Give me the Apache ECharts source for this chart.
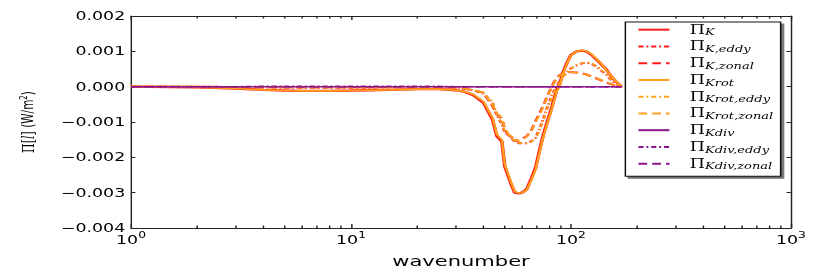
<!DOCTYPE html>
<html><head><meta charset="utf-8">
<script src="https://cdn.jsdelivr.net/npm/echarts@6/dist/echarts.min.js"></script>
<style>
html,body{margin:0;padding:0;background:#fff;overflow:hidden}
#wrap{width:830px;height:273px;overflow:hidden}
#c{width:572px;height:273px;transform:scaleX(1.451);transform-origin:0 0}
</style>
</head><body><div id="wrap"><div id="c"></div></div>
<script>
// ---- data ----
const wavenumbers = [1, 1.5, 2, 3, 4, 5, 6, 8, 10, 12, 15, 20, 25, 30, 33, 36, 40, 44, 46, 48.5, 50, 53, 55.5, 58, 60, 63, 66, 69, 72, 75, 78, 82, 86, 89, 92, 96, 100, 106, 112, 118, 124, 130, 137, 145, 152, 160, 170];

const piK = [0, -0.00001, -0.00002, -0.00005, -0.00009, -0.00011, -0.00012, -0.00012, -0.00011, -0.0001, -0.00009, -0.00007, -0.00007, -0.0001, -0.00015, -0.00024, -0.00045, -0.00093, -0.0014, -0.00155, -0.00225, -0.0027, -0.003, -0.00302, -0.003, -0.0029, -0.0026, -0.0023, -0.0018, -0.00135, -0.001, -0.00056, -0.0001, 0.00008, 0.0004, 0.00068, 0.0009, 0.001, 0.00102, 0.00099, 0.0009, 0.00078, 0.00064, 0.00048, 0.0003, 0.00015, 0];
const piKeddy = [0, 0, 0, -0.00001, -0.00002, -0.00003, -0.00003, -0.00003, -0.00003, -0.00003, -0.00002, -0.00002, -0.00002, -0.00003, -0.00005, -0.0001, -0.0002, -0.00045, -0.0008, -0.00105, -0.0013, -0.0014, -0.0015, -0.0016, -0.0016, -0.0016, -0.00155, -0.00145, -0.0012, -0.0009, -0.0006, -0.00025, 0.00002, 0.00015, 0.0003, 0.0004, 0.00052, 0.0006, 0.00066, 0.00068, 0.00065, 0.00058, 0.00046, 0.00034, 0.0002, 0.00008, 0];
const piKzonal = [0, 0, 0, -0.00001, -0.00002, -0.00002, -0.00002, -0.00002, -0.00002, -0.00002, -0.00002, -0.00001, -0.00001, -0.00003, -0.00006, -0.0001, -0.00017, -0.00055, -0.00078, -0.0009, -0.0012, -0.00145, -0.00154, -0.00152, -0.00148, -0.0014, -0.00124, -0.00098, -0.00076, -0.00052, -0.00028, 0.00002, 0.00025, 0.00033, 0.00038, 0.0004, 0.00041, 0.0004, 0.00038, 0.00034, 0.00029, 0.00024, 0.00018, 0.00012, 0.00007, 0.00003, 0];
const piKrot = [0, -0.00001, -0.00002, -0.00005, -0.00009, -0.00011, -0.00012, -0.00012, -0.00011, -0.0001, -0.00009, -0.00007, -0.00007, -0.0001, -0.00014, -0.00022, -0.00042, -0.00088, -0.00135, -0.0015, -0.0022, -0.00265, -0.00297, -0.00301, -0.003, -0.00292, -0.00265, -0.00235, -0.00186, -0.0014, -0.00105, -0.0006, -0.00015, 0.00003, 0.00037, 0.00066, 0.00089, 0.001, 0.00103, 0.001, 0.00092, 0.0008, 0.00065, 0.00047, 0.00031, 0.00016, 0];
const piKroteddy = [0, 0, 0, -0.00001, -0.00002, -0.00003, -0.00003, -0.00003, -0.00003, -0.00003, -0.00002, -0.00002, -0.00002, -0.00003, -0.00005, -0.0001, -0.00019, -0.00043, -0.00077, -0.00102, -0.00127, -0.00138, -0.00149, -0.00159, -0.0016, -0.0016, -0.00156, -0.00147, -0.00123, -0.00093, -0.00063, -0.00028, 0, 0.00013, 0.00028, 0.00039, 0.00051, 0.0006, 0.00066, 0.00069, 0.00066, 0.00059, 0.00047, 0.00035, 0.00021, 0.00009, 0];
const piKrotzonal = [0, 0, 0, -0.00001, -0.00002, -0.00002, -0.00002, -0.00002, -0.00002, -0.00002, -0.00002, -0.00001, -0.00001, -0.00003, -0.00006, -0.0001, -0.00016, -0.00052, -0.00075, -0.00088, -0.00117, -0.00143, -0.00153, -0.00152, -0.00149, -0.00141, -0.00126, -0.001, -0.00079, -0.00055, -0.0003, 0, 0.00023, 0.00032, 0.00037, 0.0004, 0.00041, 0.0004, 0.00038, 0.00034, 0.0003, 0.00025, 0.00019, 0.00013, 0.00008, 0.00003, 0];
const piKdiv = [0, 0, 0, 0, 0, 0, 0, 0, 0, 0, 0, 0, 0, 0, 0, 0, 0, 0, 0, 0, 0, 0, 0, 0, 0, 0, 0, 0, 0, 0, 0, 0, 0, 0, 0, 0, 0, 0, 0, 0, 0, 0, 0, 0, 0, 0, 0];
const piKdiveddy = [0, 0, 0, 0, 0.00001, 0.00001, 0.00001, 0.00001, 0.00001, 0.00001, 0.00001, 0.00001, 0.00001, 0, 0, 0, 0, 0, 0, 0, 0, 0, 0, 0, 0, 0, 0, 0, 0, 0, 0, 0, 0, 0, 0, 0, 0, 0, 0, 0, 0, 0, 0, 0, 0, 0, 0];
const piKdivzonal = [0, 0, 0, 0, 0, 0, 0, 0, 0, 0, 0, 0, 0, 0, 0, 0, 0, 0, 0, 0, 0, 0, 0, 0, 0, 0, 0, 0, 0, 0, 0, 0, 0, 0, 0, 0, 0, 0, 0, 0, 0, 0, 0, 0, 0, 0, 0];

const seriesNames = ['ΠK', 'ΠK,eddy', 'ΠK,zonal', 'ΠKrot', 'ΠKrot,eddy', 'ΠKrot,zonal', 'ΠKdiv', 'ΠKdiv,eddy', 'ΠKdiv,zonal'];
const seriesValues = [piK, piKeddy, piKzonal, piKrot, piKroteddy, piKrotzonal, piKdiv, piKdiveddy, piKdivzonal];
const xMinorTicks = [2, 3, 4, 5, 6, 7, 8, 9, 20, 30, 40, 50, 60, 70, 80, 90, 200, 300, 400, 500, 600, 700, 800, 900];
const yMin = -0.004, yMax = 0.002, yStep = 0.001;

// ---- styles ----
const RED = '#ff1a1a', ORANGE = '#ffa01e', PURPLE = '#8c148c';
const DASHDOT = [3.5, 2, 1.3, 2], DASHED = [6, 3.5];
const styles = [
  {color: RED, width: 2.4, type: 'solid'},
  {color: RED, width: 2, type: DASHDOT},
  {color: RED, width: 2, type: DASHED},
  {color: ORANGE, width: 1.6, type: 'solid'},
  {color: ORANGE, width: 1.6, type: DASHDOT},
  {color: ORANGE, width: 1.6, type: DASHED},
  {color: PURPLE, width: 1.5, type: 'solid'},
  {color: PURPLE, width: 1.5, type: DASHDOT},
  {color: PURPLE, width: 1.5, type: DASHED}
];

const AX = '#222';
const lineSeries = seriesNames.map((name, i) => ({
  type: 'line', name: name,
  data: wavenumbers.map((k, j) => [k, seriesValues[i][j]]),
  showSymbol: false, symbol: 'none',
  lineStyle: {color: styles[i].color, width: styles[i].width, type: styles[i].type},
  itemStyle: {color: styles[i].color},
  z: 2 + i
}));

const minorSeries = {
  type: 'custom', silent: true, clip: false, z: 20,
  data: xMinorTicks.map(v => [v, 0]),
  renderItem: function (params, api) {
    const v = api.value(0);
    const b = api.coord([v, yMin]);
    const t = api.coord([v, yMax]);
    return {type: 'group', children: [
      {type: 'line', shape: {x1: b[0], y1: b[1], x2: b[0], y2: b[1] - 2.5}, style: {stroke: AX, lineWidth: 1}},
      {type: 'line', shape: {x1: t[0], y1: t[1], x2: t[0], y2: t[1] + 2.5}, style: {stroke: AX, lineWidth: 1}}
    ]};
  }
};

const yFmt = v => {
  const n = Math.round(v / yStep);
  if (n === 0) return '0.000';
  return (n < 0 ? '\u2212' : '') + (Math.abs(n) * yStep).toFixed(3);
};
const xFmt = v => '{b|10}{e|' + Math.round(Math.log10(v)) + '}';

const chart = echarts.init(document.getElementById('c'), null, {renderer: 'svg'});
chart.setOption({
  animation: false,
  backgroundColor: '#fff',
  grid: {left: 90.3, right: 26.9, top: 16, bottom: 44},
  legend: {
    orient: 'vertical', left: 431, top: 22,
    padding: [1.7, 5, 4.6, 8],
    itemWidth: 21.4, itemHeight: 10, itemGap: 2.75,
    backgroundColor: '#fff', borderColor: '#111', borderWidth: 1,
    shadowColor: 'rgba(0,0,0,0.55)', shadowOffsetX: 2, shadowOffsetY: 2, shadowBlur: 0,
    selectedMode: false,
    itemStyle: {color: 'rgba(0,0,0,0)', borderWidth: 0, opacity: 0},
    data: seriesNames,
    formatter: name => '{p|Π}{s|' + name.slice(1) + '}',
    textStyle: {
      rich: {
        p: {fontFamily: 'DejaVu Serif', fontSize: 12, lineHeight: 16, color: '#000', padding: [0, 0, 0, 9]},
        s: {fontFamily: 'DejaVu Serif', fontStyle: 'italic', fontSize: 9, lineHeight: 16, height: 10, verticalAlign: 'bottom', color: '#000'}
      }
    }
  },
  xAxis: [
    {
      type: 'log', logBase: 10, min: 1, max: 1000, position: 'bottom',
      name: 'wavenumber', nameLocation: 'middle', nameGap: 25,
      nameTextStyle: {fontFamily: 'DejaVu Sans', fontSize: 14.5, color: '#000'},
      axisLine: {show: true, onZero: false, lineStyle: {color: AX, width: 1}},
      axisTick: {show: true, inside: true, length: 4, lineStyle: {color: AX, width: 1}},
      axisLabel: {
        formatter: xFmt, margin: 2, color: '#000',
        rich: {
          b: {fontFamily: 'DejaVu Sans', fontSize: 12, lineHeight: 20, color: '#000'},
          e: {fontFamily: 'DejaVu Sans', fontSize: 8.5, verticalAlign: 'top', height: 9, color: '#000'}
        }
      },
      splitLine: {show: false}, minorTick: {show: false}
    },
    {
      type: 'log', logBase: 10, min: 1, max: 1000, position: 'top',
      axisLine: {show: true, onZero: false, lineStyle: {color: AX, width: 1}},
      axisTick: {show: true, inside: true, length: 4, lineStyle: {color: AX, width: 1}},
      axisLabel: {show: false}, splitLine: {show: false}
    }
  ],
  yAxis: [
    {
      type: 'value', min: yMin, max: yMax, interval: yStep, position: 'left',
      name: '{p|Π[}{i|l}{p|]}{n| (W/m}{u|2}{n|)}',
      nameLocation: 'middle', nameGap: 64,
      nameTextStyle: {
        rich: {
          p: {fontFamily: 'DejaVu Serif', fontSize: 11, color: '#000', lineHeight: 14},
          i: {fontFamily: 'DejaVu Serif', fontStyle: 'italic', fontSize: 11, color: '#000', lineHeight: 14},
          n: {fontFamily: 'DejaVu Sans', fontSize: 10.5, color: '#000', lineHeight: 14},
          u: {fontFamily: 'DejaVu Sans', fontSize: 7, color: '#000', verticalAlign: 'top', height: 8}
        }
      },
      axisLine: {show: true, onZero: false, lineStyle: {color: AX, width: 1}},
      axisTick: {show: true, inside: true, length: 3, lineStyle: {color: AX, width: 1}},
      axisLabel: {formatter: yFmt, margin: 4, fontFamily: 'DejaVu Sans', fontSize: 12, color: '#000'},
      splitLine: {show: false}
    },
    {
      type: 'value', min: yMin, max: yMax, interval: yStep, position: 'right',
      axisLine: {show: true, onZero: false, lineStyle: {color: AX, width: 1}},
      axisTick: {show: true, inside: true, length: 3, lineStyle: {color: AX, width: 1}},
      axisLabel: {show: false}, splitLine: {show: false}
    }
  ],
  series: lineSeries.concat([minorSeries])
});
</script>
</body></html>
